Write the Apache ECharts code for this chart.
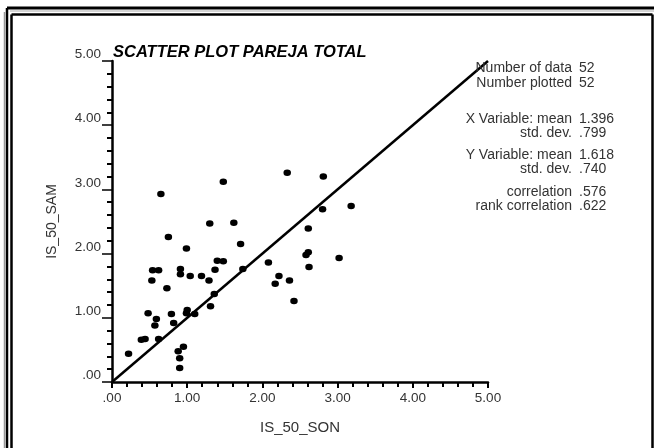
<!DOCTYPE html>
<html>
<head>
<meta charset="utf-8">
<script src="https://cdn.jsdelivr.net/npm/echarts@6/dist/echarts.min.js"></script>
<style>
  html, body { margin: 0; padding: 0; background: #fff; }
  #chart { width: 654px; height: 448px; }
</style>
</head>
<body>
<div id="chart"></div>
<script>
// IS_50_SON (x) against IS_50_SAM (y), 52 couples
const sonValues = [
  0.22, 0.39, 0.44, 0.48, 0.53, 0.54, 0.62, 0.57, 0.59, 0.62,
  0.65, 0.73, 0.75, 0.79, 0.82, 0.88, 0.90, 0.90, 0.95, 0.91,
  0.91, 0.99, 1.00, 0.99, 1.04, 1.10, 1.19, 1.29, 1.30, 1.31,
  1.36, 1.37, 1.40, 1.48, 1.48, 1.62, 1.71, 1.74, 2.08, 2.17,
  2.22, 2.33, 2.36, 2.42, 2.58, 2.61, 2.61, 2.62, 2.80, 2.81,
  3.02, 3.18
];
const samValues = [
  0.44, 0.66, 0.67, 1.07, 1.58, 1.74, 1.74, 0.88, 0.98, 0.67,
  2.93, 1.46, 2.26, 1.06, 0.92, 0.48, 0.37, 0.22, 0.55, 1.76,
  1.68, 2.08, 1.12, 1.07, 1.65, 1.06, 1.65, 1.58, 2.47, 1.18,
  1.37, 1.75, 1.89, 1.88, 3.12, 2.48, 2.15, 1.76, 1.86, 1.53,
  1.65, 3.26, 1.58, 1.26, 1.98, 2.02, 2.39, 1.79, 2.69, 3.20,
  1.93, 2.74
];

// 1:1 reference line
const diagonalX = [0, 5];
const diagonalY = [0, 5];

// summary statistics shown beside the plot
const statLabels = [
  'Number of data', 'Number plotted',
  'X Variable: mean', 'std. dev.',
  'Y Variable: mean', 'std. dev.',
  'correlation', 'rank correlation'
];
const statValues = ['52', '52', '1.396', '.799', '1.618', '.740', '.576', '.622'];
const statRowsY = [68, 83, 119, 133, 155, 169, 192, 206];

const titleText = 'SCATTER PLOT PAREJA TOTAL';
const xName = 'IS_50_SON';
const yName = 'IS_50_SAM';

const FONT = '"Liberation Sans", Arial, sans-serif';

function tickFmt(v) {
  return v === 0 ? '.00' : v.toFixed(2);
}

const points = sonValues.map((x, i) => [x, samValues[i]]);
const diagonal = diagonalX.map((x, i) => [x, diagonalY[i]]);

const axisCommon = {
  type: 'value',
  min: 0,
  max: 5,
  interval: 1,
  splitLine: { show: false },
  axisLine: { show: true, lineStyle: { color: '#000', width: 2.5 } },
  minorTick: { show: true, splitNumber: 5, length: 5, lineStyle: { color: '#000', width: 2 } },
  minorSplitLine: { show: false },
  axisLabel: {
    formatter: tickFmt,
    color: '#333',
    fontFamily: FONT,
    fontSize: 13.5
  }
};

// frame lines around the figure
const frame = [
  // outer heavy line
  { type: 'line', shape: { x1: 7, y1: 8, x2: 660, y2: 8 }, style: { stroke: '#000', lineWidth: 3 } },
  { type: 'line', shape: { x1: 7, y1: 8, x2: 7, y2: 460 }, style: { stroke: '#000', lineWidth: 2.5 } },
  { type: 'line', shape: { x1: 4.5, y1: 12, x2: 4.5, y2: 460 }, style: { stroke: '#999', lineWidth: 1.5 } },
  { type: 'line', shape: { x1: 10, y1: 11, x2: 660, y2: 11 }, style: { stroke: '#aaa', lineWidth: 1 } },
  // inner line
  { type: 'line', shape: { x1: 11.5, y1: 14.5, x2: 652.5, y2: 14.5 }, style: { stroke: '#000', lineWidth: 2.5 } },
  { type: 'line', shape: { x1: 11.5, y1: 14.5, x2: 11.5, y2: 460 }, style: { stroke: '#000', lineWidth: 2.5 } },
  { type: 'line', shape: { x1: 652.5, y1: 14.5, x2: 652.5, y2: 460 }, style: { stroke: '#000', lineWidth: 2.5 } }
];

const statsText = [];
statLabels.forEach((label, i) => {
  statsText.push({
    type: 'text', x: 572, y: statRowsY[i], z: 10,
    style: { text: label, fill: '#333', font: '14px ' + FONT, textAlign: 'right', textVerticalAlign: 'middle' }
  });
  statsText.push({
    type: 'text', x: 579, y: statRowsY[i], z: 10,
    style: { text: statValues[i], fill: '#333', font: '14px ' + FONT, textAlign: 'left', textVerticalAlign: 'middle' }
  });
});

const chart = echarts.init(document.getElementById('chart'), null, { renderer: 'canvas' });
chart.setOption({
  animation: false,
  backgroundColor: '#fff',
  grid: { left: 112, right: 166, top: 61, bottom: 66, containLabel: false, outerBoundsMode: 'none' },
  title: {
    text: titleText,
    left: 113,
    top: 44,
    padding: 0,
    textStyle: { fontFamily: FONT, fontSize: 16.5, fontWeight: 'bold', fontStyle: 'italic', color: '#000' }
  },
  xAxis: Object.assign({}, axisCommon, {
    position: 'bottom',
    name: xName,
    nameLocation: 'middle',
    nameGap: 38,
    nameTextStyle: { fontFamily: FONT, fontSize: 15, color: '#333', verticalAlign: 'top' },
    axisTick: { show: true, length: 6, lineStyle: { color: '#000', width: 2 } },
    axisLabel: Object.assign({}, axisCommon.axisLabel, { margin: 9 })
  }),
  yAxis: Object.assign({}, axisCommon, {
    position: 'left',
    name: yName,
    nameLocation: 'middle',
    nameGap: 53,
    nameRotate: 90,
    nameTextStyle: { fontFamily: FONT, fontSize: 14, color: '#333' },
    axisTick: { show: true, length: 10, lineStyle: { color: '#000', width: 1.5 } },
    axisLabel: Object.assign({}, axisCommon.axisLabel, { margin: 11, verticalAlign: 'bottom', lineHeight: 13 })
  }),
  graphic: frame.concat(statsText),
  series: [
    {
      type: 'line',
      data: diagonal,
      showSymbol: false,
      symbol: 'none',
      lineStyle: { color: '#000', width: 2.5 },
      z: 2,
      silent: true
    },
    {
      type: 'scatter',
      data: points,
      symbol: 'circle',
      symbolSize: [7.5, 6.5],
      itemStyle: { color: '#000', opacity: 1 },
      z: 3
    }
  ]
});
</script>
</body>
</html>
